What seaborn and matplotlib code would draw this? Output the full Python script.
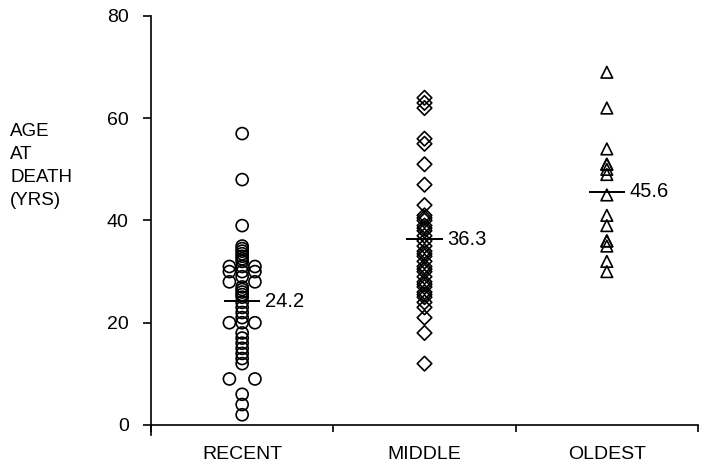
import numpy as np
import pandas as pd
import matplotlib
matplotlib.use("Agg")
import matplotlib.pyplot as plt
import seaborn as sns

sns.set_style("ticks")
plt.rcParams['font.family'] = ['Liberation Sans', 'DejaVu Sans']
plt.rcParams['text.color'] = 'black'
plt.rcParams['xtick.color'] = 'black'
plt.rcParams['ytick.color'] = 'black'
plt.rcParams['axes.labelcolor'] = 'black'

# data
groups = ["RECENT", "MIDDLE", "OLDEST"]
recent = [57, 48, 39, 35, 34.5, 34, 33.5, 33, 32.5, 32, 31, 31, 31, 30, 30, 30, 29,
          28, 28, 27, 26.5, 26, 25.5, 25, 24, 23, 22, 21, 20, 20, 20, 18, 17, 16,
          15, 14, 13, 12, 9, 9, 6, 4, 2]
middle = [64, 63, 62, 56, 55, 51, 47, 43, 41, 40.5, 40, 39, 38.5, 38, 37, 36, 35,
          34, 33.5, 33, 32, 31, 30.5, 30, 29, 28, 27.5, 27, 26, 25.5, 25, 24, 23,
          21, 18, 12]
oldest = [69, 62, 54, 51, 51, 50, 49, 45, 41, 39, 36, 36, 35, 32, 30]
means = [24.2, 36.3, 45.6]
mean_labels = ["24.2", "36.3", "45.6"]
markers = ["o", "D", "^"]
sizes = [75, 55, 70]

# build long table, spread repeated values sideways
rows = []
step = 0.07
for i, vals in enumerate([recent, middle, oldest]):
    s = pd.Series(vals)
    for v, n in s.value_counts().items():
        offs = np.linspace(-step, step, n) if (n > 1 and i == 0) else np.zeros(n)
        for o in offs:
            rows.append({"group": groups[i], "age": v, "xpos": i + o})
df = pd.DataFrame(rows)

fig = plt.figure(figsize=(7.08, 4.69), dpi=100)
ax = fig.add_axes([151/708, 1 - 435.2/469, (698-151)/708, (435.2-16)/469])

for i, g in enumerate(groups):
    sub = df[df["group"] == g]
    sns.scatterplot(data=sub, x="xpos", y="age", marker=markers[i], s=sizes[i],
                    facecolor="none", edgecolor="black", linewidth=1.2, ax=ax,
                    legend=False, zorder=3)

xs = np.arange(len(groups))
ax.hlines(means, xs - 0.1, xs + 0.1, color="black", linewidth=1.4, zorder=4)
for x, m, lab in zip(xs, means, mean_labels):
    ax.text(x + 0.125, m, lab, va="center", ha="left", fontsize=14.5)

ax.set_xlim(-0.5, 2.5)
ax.set_ylim(-2, 80)
ax.set_yticks([0, 20, 40, 60, 80])
ax.set_xticks([-0.5, 0.5, 1.5, 2.5])
ax.set_xticklabels([])
ax.set_xticks(xs, minor=True)
ax.set_xticklabels(groups, minor=True)
ax.tick_params(axis="x", which="minor", length=0, pad=15, labelsize=14)
ax.tick_params(axis="x", which="major", length=5, width=1.2, direction="out")
ax.tick_params(axis="y", length=6, width=1.2, direction="out", pad=10, labelsize=14)
ax.set_xlabel("")
ax.set_ylabel("")

sns.despine(ax=ax)
ax.spines["bottom"].set_position(("data", 0))
for sp in ["left", "bottom"]:
    ax.spines[sp].set_linewidth(1.2)
    ax.spines[sp].set_color("black")

fig.text(10/708, 1 - 123/469, "AGE\nAT\nDEATH\n(YRS)", ha="left", va="top",
         fontsize=13.5, linespacing=1.45)

fig.savefig("out.png", dpi=100)
